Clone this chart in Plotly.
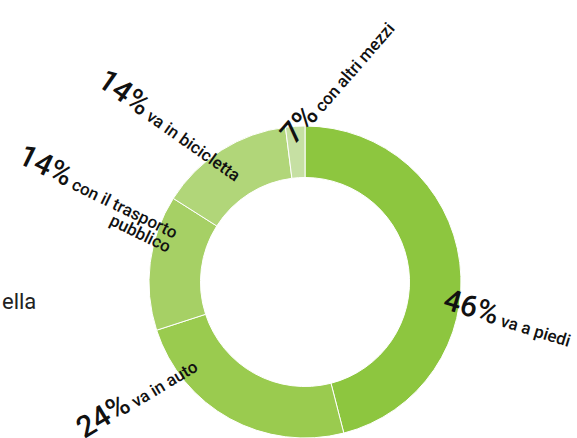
import plotly.graph_objects as go

W, H = 577, 438

categories = ["va a piedi", "va in auto", "con il trasporto pubblico", "va in bicicletta", "con altri mezzi"]
values = [46, 24, 14, 14, 2]
label_pct = ["46%", "24%", "14%", "14%", "7%"]
colors = ["#8DC63F", "#9ACB4F", "#A6D065", "#B1D679", "#C6E0A3"]

FONT = "Roboto"


def px2paper(x, y):
    return x / W, 1 - y / H


def label(pct, txt):
    return (f"<span style='font-size:30px'>{pct}</span>"
            f"<span style='font-size:17px'> {txt}</span>")


x0, y0 = px2paper(148, 126)
x1, y1 = px2paper(462, 440)

fig = go.Figure(go.Pie(
    labels=categories,
    values=values,
    hole=0.67,
    sort=False,
    direction="clockwise",
    rotation=0,
    marker=dict(colors=colors, line=dict(color="white", width=1)),
    textinfo="none",
    hoverinfo="label+percent",
    domain=dict(x=[x0, x1], y=[max(y1, 0), y0]),
    showlegend=False,
))

# label placement: (center px, angle)
placements = [
    ((508, 317), 17, label(label_pct[0], "va a piedi")),
    ((136, 395), -31, label(label_pct[1], "va in auto")),
    ((97, 197), 26, label(label_pct[2], "con il trasporto<br>pubblico")),
    ((171, 125), 35, label(label_pct[3], "va in bicicletta")),
    ((337, 81), -49, label(label_pct[4], "con altri mezzi")),
]

for (cx, cy), ang, txt in placements:
    x, y = px2paper(cx, cy)
    fig.add_annotation(
        x=x, y=y, xref="paper", yref="paper",
        text=txt, textangle=ang, showarrow=False,
        align="right", xanchor="center", yanchor="middle",
        font=dict(family=FONT, color="#111111", weight=500),
    )

x, y = px2paper(0, 301)
fig.add_annotation(
    x=x, y=y, xref="paper", yref="paper",
    text="ella", showarrow=False, xanchor="left", yanchor="middle",
    font=dict(family=FONT, size=22, color="#222222"),
)

fig.update_layout(
    width=W, height=H,
    margin=dict(l=0, r=0, t=0, b=0),
    paper_bgcolor="white",
    plot_bgcolor="white",
)

fig.write_html("out.html", config={"displayModeBar": False},
               post_script="document.body.style.margin = '0';")
